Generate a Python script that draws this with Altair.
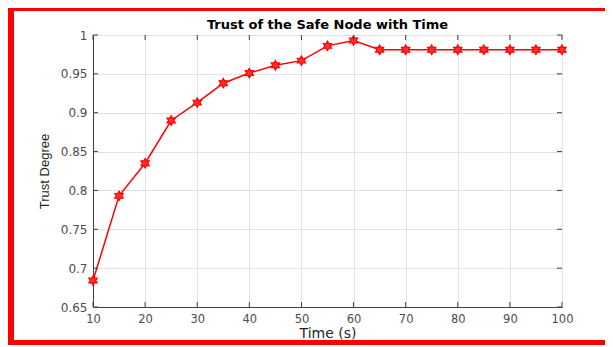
import altair as alt
import pandas as pd

times = [10, 15, 20, 25, 30, 35, 40, 45, 50, 55, 60, 65, 70, 75, 80, 85, 90, 95, 100]
trust = [0.684, 0.793, 0.835, 0.890, 0.913, 0.938, 0.951, 0.961, 0.967, 0.986, 0.993,
         0.981, 0.981, 0.981, 0.981, 0.981, 0.981, 0.981, 0.981]
x_ticks = [10, 20, 30, 40, 50, 60, 70, 80, 90, 100]
y_ticks = [0.65, 0.7, 0.75, 0.8, 0.85, 0.9, 0.95, 1.0]
title_text = ["Trust of the Safe Node with Time"]

W, H = 469, 272
PL, PT, PR, PB = 85, 27, 43, 38

df = pd.DataFrame({"t": times, "v": trust})
xt = pd.DataFrame({"x": x_ticks})
yt = pd.DataFrame({"y": y_ticks})
tt = pd.DataFrame({"title": title_text})

xs = alt.Scale(domain=[10, 100], nice=False, zero=False)
ys = alt.Scale(domain=[0.65, 1.0], nice=False, zero=False)

LFONT = "DejaVu Sans"

x_axis = alt.Axis(
    values=x_ticks, title="Time (s)", grid=True, gridColor="#e3e3e3",
    ticks=False, labelFont=LFONT, labelFontSize=11.5, labelColor="#4d4d4d",
    labelPadding=6, labelOverlap=False, labelFlush=False, titleFont=LFONT,
    titleFontSize=14, titleFontWeight="normal", titleColor="#262626",
    titlePadding=2, domainColor="#404040")
y_axis = alt.Axis(
    values=y_ticks, title="Trust Degree", grid=True, gridColor="#e3e3e3",
    ticks=False, format=".2~f", labelFont=LFONT, labelFontSize=12,
    labelColor="#4d4d4d", labelPadding=6, labelOverlap=False, labelFlush=False,
    titleFont="Liberation Sans", titleFontSize=13,
    titleFontWeight="normal", titleColor="#262626", titlePadding=9,
    domainColor="#404040")

hexagram = ("M0,-1L0.289,-0.5L0.866,-0.5L0.577,0L0.866,0.5L0.289,0.5L0,1"
            "L-0.289,0.5L-0.866,0.5L-0.577,0L-0.866,-0.5L-0.289,-0.5Z")

base = alt.Chart(df)

line = base.mark_line(color="#ff0000", strokeWidth=1.5).encode(
    x=alt.X("t:Q", scale=xs, axis=x_axis),
    y=alt.Y("v:Q", scale=ys, axis=y_axis),
)

pts = base.mark_point(shape=hexagram, size=90, filled=True, fill="#ff3030",
                      stroke="#ff0000", strokeWidth=1.2, opacity=1).encode(
    x=alt.X("t:Q", scale=xs, axis=x_axis), y=alt.Y("v:Q", scale=ys, axis=y_axis))

tick_col = "#404040"
xb = alt.Chart(xt).mark_rule(color=tick_col, strokeWidth=1).encode(
    x=alt.X("x:Q", scale=xs, axis=x_axis), y=alt.value(H), y2=alt.value(H - 5))
xtop = alt.Chart(xt).mark_rule(color=tick_col, strokeWidth=1).encode(
    x=alt.X("x:Q", scale=xs, axis=x_axis), y=alt.value(0), y2=alt.value(5))
yl = alt.Chart(yt).mark_rule(color=tick_col, strokeWidth=1).encode(
    y=alt.Y("y:Q", scale=ys, axis=y_axis), x=alt.value(0), x2=alt.value(5))
yr = alt.Chart(yt).mark_rule(color=tick_col, strokeWidth=1).encode(
    y=alt.Y("y:Q", scale=ys, axis=y_axis), x=alt.value(W - 5), x2=alt.value(W))

title = alt.Chart(tt).mark_text(font="DejaVu Sans", fontSize=13, fontWeight="bold",
                                color="#000000", align="center", baseline="alphabetic",
                                clip=False).encode(
    x=alt.value(W / 2), y=alt.value(-6), text="title:N")

red = "#ff0000"
b_left = alt.Chart(df).mark_rule(color=red, strokeWidth=6, clip=False).encode(
    x=alt.value(-PL + 3), y=alt.value(-PT), y2=alt.value(H + PB))
b_top = alt.Chart(df).mark_rule(color=red, strokeWidth=3, clip=False).encode(
    y=alt.value(-PT + 1.5), x=alt.value(-PL), x2=alt.value(W + PR))
b_bot = alt.Chart(df).mark_rule(color=red, strokeWidth=5, clip=False).encode(
    y=alt.value(H + PB - 2.5), x=alt.value(-PL), x2=alt.value(W + PR))

chart = alt.layer(line, pts, xb, xtop, yl, yr, title, b_left, b_top, b_bot).properties(
    width=W, height=H,
    autosize=alt.AutoSizeParams(type="none"),
    padding={"left": PL, "top": PT, "right": PR, "bottom": PB},
).configure_view(stroke="#808080", strokeWidth=1)

chart.save("out.html", embed_options={"renderer": "svg", "actions": False})
